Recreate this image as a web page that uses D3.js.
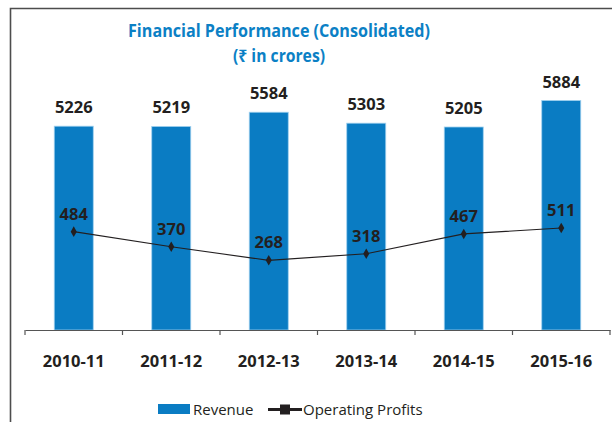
<!DOCTYPE html>
<html>
<head>
<meta charset="utf-8">
<script src="https://cdn.jsdelivr.net/npm/d3@7"></script>
<style>
  body { margin: 0; background: #fff; }
  text { font-family: "Open Sans", "Noto Sans", "DejaVu Sans", sans-serif; }
</style>
</head>
<body>
<div id="chart"></div>
<script>
const years = ['2010-11', '2011-12', '2012-13', '2013-14', '2014-15', '2015-16'];
const revenue = [5226, 5219, 5584, 5303, 5205, 5884];
const profits = [484, 370, 268, 318, 467, 511];

const width = 612;
const height = 422;
const baseY = 330;
const barColor = '#0a7cc3';
const textColor = '#231f20';

const svg = d3.select('#chart')
  .append('svg')
  .attr('width', width)
  .attr('height', height);

/* frame */
svg.append('path')
  .attr('d', 'M10.5,' + height + 'V8.5H' + width)
  .attr('fill', 'none')
  .attr('stroke', '#4d4d4d')
  .attr('stroke-width', 1.6);

/* title */
svg.append('text')
  .attr('x', 279).attr('y', 37)
  .attr('text-anchor', 'middle')
  .attr('font-size', 18).attr('font-weight', 700)
  .attr('fill', '#0b80c5')
  .attr('textLength', 302).attr('lengthAdjust', 'spacingAndGlyphs')
  .text('Financial Performance (Consolidated)');

svg.append('text')
  .attr('x', 279).attr('y', 62)
  .attr('text-anchor', 'middle')
  .attr('font-size', 18).attr('font-weight', 700)
  .attr('fill', '#0b80c5')
  .attr('textLength', 92).attr('lengthAdjust', 'spacingAndGlyphs')
  .text('(₹ in crores)');

/* scales */
const x = d3.scaleBand()
  .domain(years)
  .range([25, 610])
  .paddingInner(0)
  .paddingOuter(0);

const yRev = d3.scaleLinear()
  .domain([0, 8000])
  .range([baseY, 18]);

const yProf = d3.scaleLinear()
  .domain([0, 1000])
  .range([296, 163]);

const barW = x.bandwidth() * 0.4;

/* bars */
svg.selectAll('.bar')
  .data(revenue)
  .enter()
  .append('rect')
  .attr('class', 'bar')
  .attr('x', (d, i) => x(years[i]) + (x.bandwidth() - barW) / 2)
  .attr('y', d => yRev(d))
  .attr('width', barW)
  .attr('height', d => baseY - yRev(d))
  .attr('fill', barColor)
  .attr('stroke', '#9fd0ee')
  .attr('stroke-width', 0.8);

svg.selectAll('.revLabel')
  .data(revenue)
  .enter()
  .append('text')
  .attr('x', (d, i) => x(years[i]) + x.bandwidth() / 2)
  .attr('y', d => yRev(d) - 13)
  .attr('text-anchor', 'middle')
  .attr('font-size', 16.5).attr('font-weight', 700)
  .attr('fill', textColor)
  .text(d => d);

/* x axis */
const axis = svg.append('g')
  .attr('transform', 'translate(0,' + baseY + ')')
  .call(d3.axisBottom(x).tickSize(0).tickFormat(''));
axis.select('.domain').attr('stroke', '#555').attr('stroke-width', 1.2);
axis.selectAll('.edgeTick')
  .data(years.concat(['end']))
  .enter()
  .append('line')
  .attr('x1', (d, i) => 25 + i * x.step())
  .attr('x2', (d, i) => 25 + i * x.step())
  .attr('y1', 0).attr('y2', 5)
  .attr('stroke', '#555').attr('stroke-width', 1.2);

svg.selectAll('.yearLabel')
  .data(years)
  .enter()
  .append('text')
  .attr('x', d => x(d) + x.bandwidth() / 2)
  .attr('y', 367)
  .attr('text-anchor', 'middle')
  .attr('font-size', 16.5).attr('font-weight', 700)
  .attr('fill', textColor)
  .text(d => d);

/* profit line */
const line = d3.line()
  .x((d, i) => x(years[i]) + x.bandwidth() / 2)
  .y(d => yProf(d));

svg.append('path')
  .datum(profits)
  .attr('d', line)
  .attr('fill', 'none')
  .attr('stroke', '#231f20')
  .attr('stroke-width', 1.1);

svg.selectAll('.marker')
  .data(profits)
  .enter()
  .append('path')
  .attr('d', d3.symbol().type(d3.symbolDiamond).size(32))
  .attr('transform', (d, i) => 'translate(' + (x(years[i]) + x.bandwidth() / 2) + ',' + yProf(d) + ')')
  .attr('fill', '#231f20');

svg.selectAll('.profLabel')
  .data(profits)
  .enter()
  .append('text')
  .attr('x', (d, i) => x(years[i]) + x.bandwidth() / 2)
  .attr('y', d => yProf(d) - 12)
  .attr('text-anchor', 'middle')
  .attr('font-size', 16.5).attr('font-weight', 700)
  .attr('fill', textColor)
  .text(d => d);

/* legend */
const legend = svg.append('g');
legend.append('rect')
  .attr('x', 158).attr('y', 404)
  .attr('width', 32).attr('height', 10)
  .attr('fill', barColor);
legend.append('text')
  .attr('x', 193).attr('y', 415)
  .attr('font-size', 15)
  .attr('fill', textColor)
  .text('Revenue');
legend.append('line')
  .attr('x1', 268).attr('x2', 302)
  .attr('y1', 409.5).attr('y2', 409.5)
  .attr('stroke', '#231f20').attr('stroke-width', 3);
legend.append('rect')
  .attr('x', 280).attr('y', 404.5)
  .attr('width', 10).attr('height', 10)
  .attr('fill', '#231f20');
legend.append('text')
  .attr('x', 303).attr('y', 415)
  .attr('font-size', 15)
  .attr('fill', textColor)
  .text('Operating Profits');
</script>
</body>
</html>
